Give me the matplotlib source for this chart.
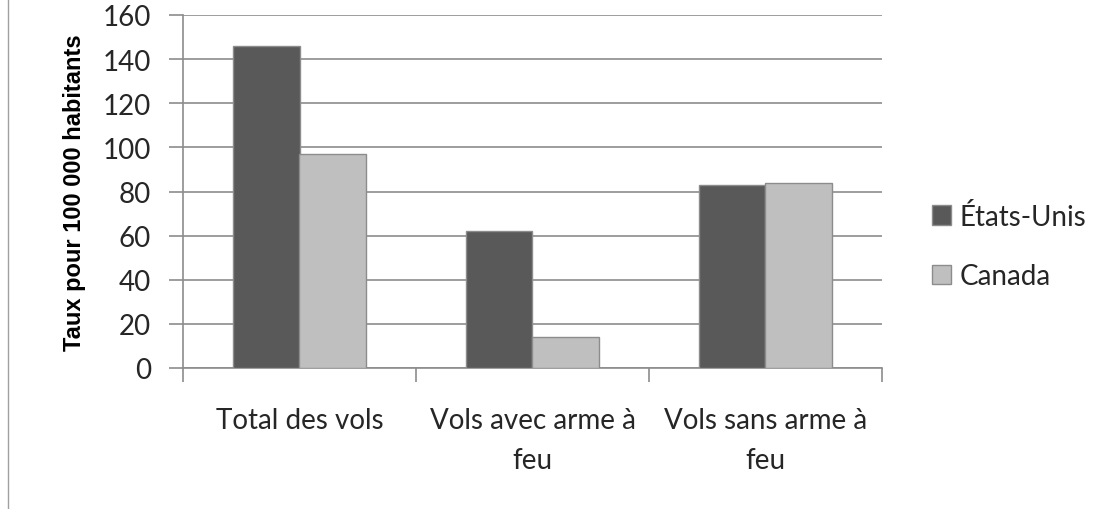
import matplotlib
matplotlib.use('Agg')
import matplotlib.pyplot as plt
import numpy as np
from matplotlib.lines import Line2D

categories = ['Total des vols', 'Vols avec arme à\nfeu', 'Vols sans arme à\nfeu']
series_names = ['États-Unis', 'Canada']
etats_unis = [146, 62, 83]
canada = [97, 14, 84]
y_ticks = [0, 20, 40, 60, 80, 100, 120, 140, 160]

plt.rcParams['font.family'] = ['Lato', 'DejaVu Sans']
text_col = '#262626'
line_col = '#8c8c8c'

fig = plt.figure(figsize=(11.03, 5.10), dpi=100)
ax = fig.add_axes([183 / 1103, 1 - 369 / 510, 699 / 1103, 353 / 510])

x = np.arange(len(categories)) + 0.5
w = 0.285
ax.bar(x - w / 2, etats_unis, w, color='#595959', edgecolor=line_col, linewidth=1, label=series_names[0], zorder=3)
ax.bar(x + w / 2, canada, w, color='#bfbfbf', edgecolor=line_col, linewidth=1, label=series_names[1], zorder=3)

ax.set_xlim(0, 3)
ax.set_ylim(0, 160)
ax.set_yticks(y_ticks)
ax.yaxis.grid(True, color=line_col, linewidth=1.2, zorder=0)
ax.set_xticks(x)
ax.set_xticklabels(categories, fontsize=20, color=text_col, linespacing=1.67)
ax.set_xticks([0, 1, 2, 3], minor=True)
ax.tick_params(axis='x', which='major', length=0, pad=28)
ax.tick_params(axis='x', which='minor', length=10, width=1.2, color=line_col, direction='out')
ax.tick_params(axis='y', length=10, width=1.2, color=line_col, labelsize=20, labelcolor=text_col, pad=13)

for s in ['top', 'right']:
    ax.spines[s].set_visible(False)
for s in ['left', 'bottom']:
    ax.spines[s].set_color(line_col)
    ax.spines[s].set_linewidth(1.2)

ax.set_ylabel('Taux pour 100 000 habitants', fontsize=17, fontweight='bold',
              family=['Liberation Sans', 'DejaVu Sans'], color='black', labelpad=12)

leg = fig.legend(loc='center left', bbox_to_anchor=(932 / 1103, 1 - 247 / 510), frameon=False,
                 fontsize=20, handlelength=0.7, handleheight=0.7, handletextpad=0.3,
                 labelspacing=1.2, labelcolor=text_col, borderpad=0, borderaxespad=0)

fig.add_artist(Line2D([8 / 1103, 8 / 1103], [0, 1], color='#a0a0a0', linewidth=1))

fig.savefig('out.png', dpi=100)
